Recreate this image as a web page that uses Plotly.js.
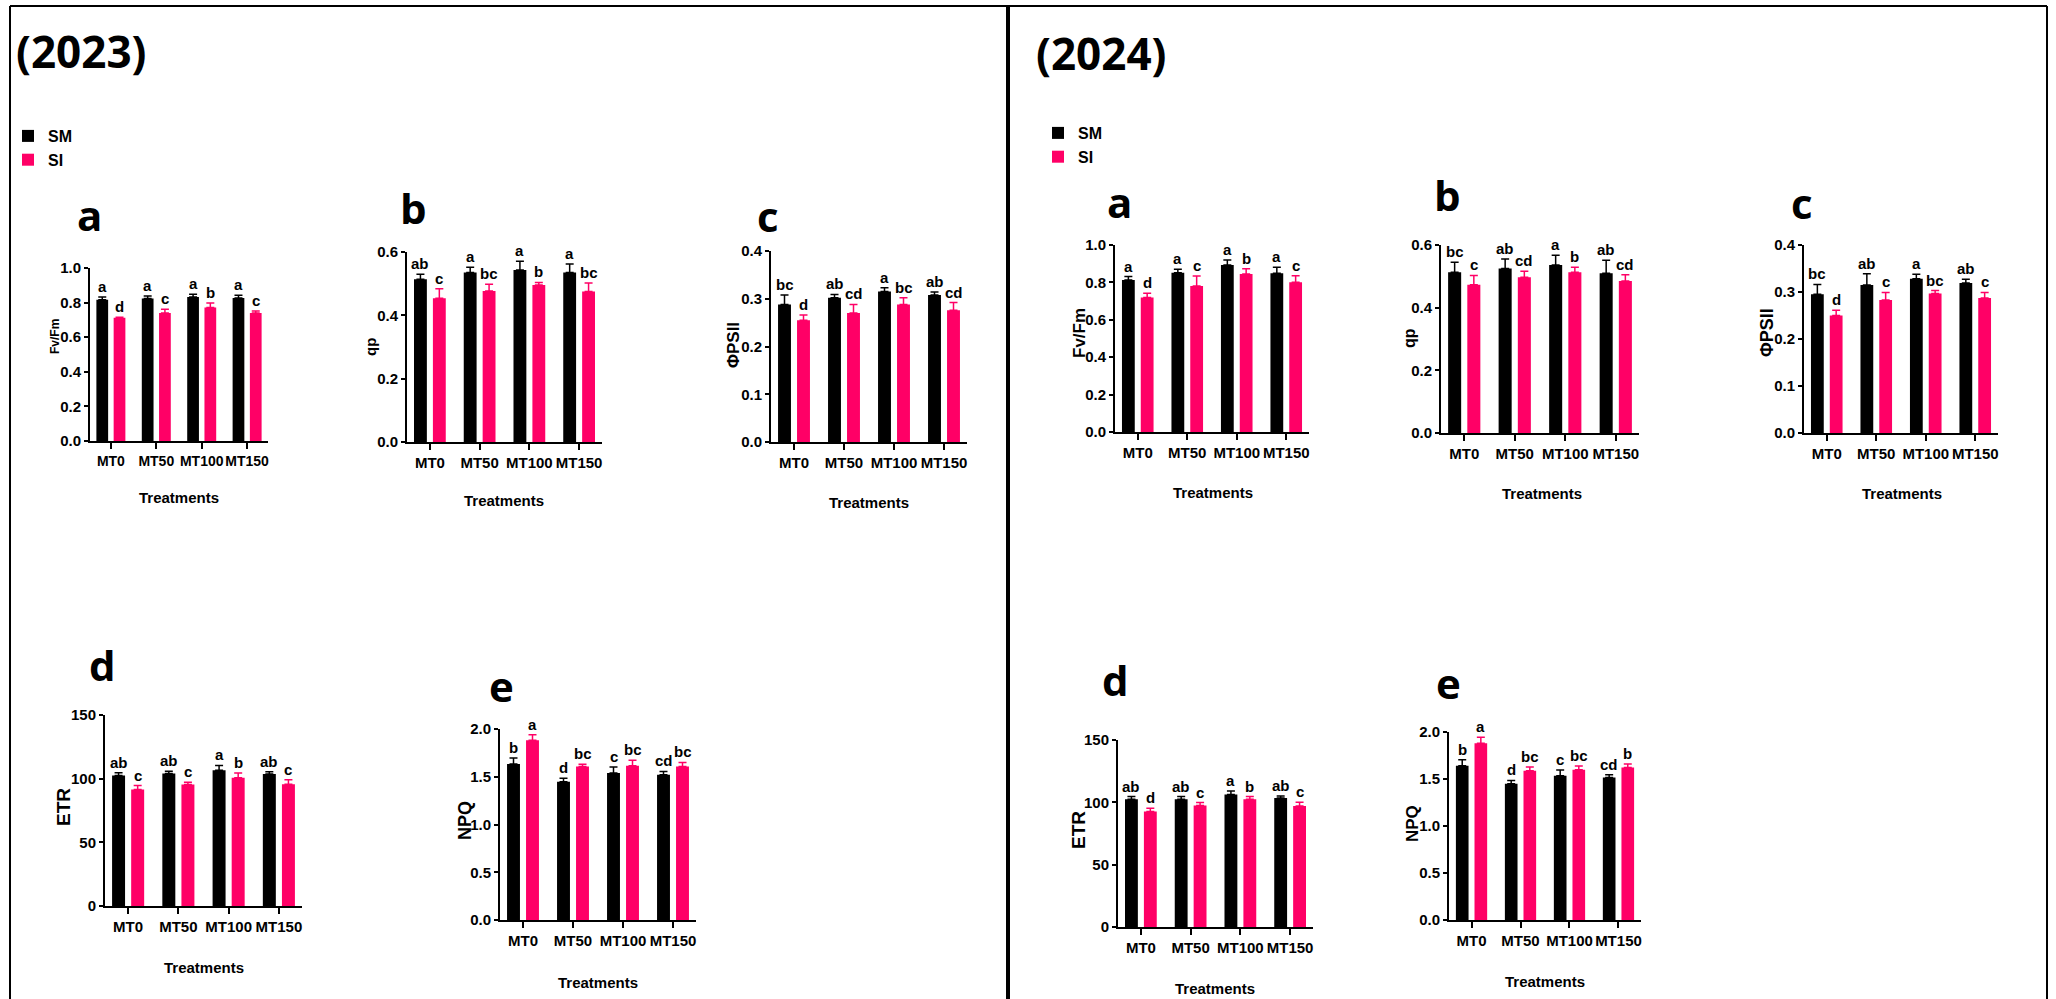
<!DOCTYPE html>
<html><head><meta charset="utf-8">
<script src="https://cdn.plot.ly/plotly-3.0.1.min.js"></script>
<style>html,body{margin:0;padding:0;background:#fff;} #chart{width:2056px;height:999px;}</style>
</head><body><div id="chart"></div>
<script>
// ---------------- DATA ----------------
const treatments = ['MT0', 'MT50', 'MT100', 'MT150'];
const seriesNames = ['SM', 'SI'];

// 2023
const fvfm23_SM = [0.817, 0.823, 0.833, 0.827];
const fvfm23_SM_err = [0.015, 0.015, 0.015, 0.015];
const fvfm23_SI = [0.712, 0.740, 0.771, 0.740];
const fvfm23_SI_err = [0.004, 0.021, 0.027, 0.012];
const fvfm23_SM_sig = ['a', 'a', 'a', 'a'];
const fvfm23_SI_sig = ['d', 'c', 'b', 'c'];

const qp23_SM = [0.514, 0.535, 0.543, 0.535];
const qp23_SM_err = [0.016, 0.017, 0.028, 0.027];
const qp23_SI = [0.454, 0.477, 0.496, 0.475];
const qp23_SI_err = [0.030, 0.021, 0.008, 0.027];
const qp23_SM_sig = ['ab', 'a', 'a', 'a'];
const qp23_SI_sig = ['c', 'bc', 'b', 'bc'];

const phi23_SM = [0.288, 0.302, 0.315, 0.308];
const phi23_SM_err = [0.020, 0.007, 0.008, 0.006];
const phi23_SI = [0.255, 0.270, 0.288, 0.276];
const phi23_SI_err = [0.011, 0.018, 0.014, 0.016];
const phi23_SM_sig = ['bc', 'ab', 'a', 'ab'];
const phi23_SI_sig = ['d', 'cd', 'bc', 'cd'];

const etr23_SM = [102.5, 104.1, 106.7, 103.6];
const etr23_SM_err = [2.1, 1.8, 3.7, 1.8];
const etr23_SI = [91.5, 95.5, 100.7, 95.7];
const etr23_SI_err = [3.1, 1.6, 3.7, 3.4];
const etr23_SM_sig = ['ab', 'ab', 'a', 'ab'];
const etr23_SI_sig = ['c', 'c', 'b', 'c'];

const npq23_SM = [1.633, 1.448, 1.538, 1.521];
const npq23_SM_err = [0.063, 0.035, 0.063, 0.035];
const npq23_SI = [1.881, 1.608, 1.615, 1.608];
const npq23_SI_err = [0.059, 0.024, 0.059, 0.042];
const npq23_SM_sig = ['b', 'd', 'c', 'cd'];
const npq23_SI_sig = ['a', 'bc', 'bc', 'bc'];

// 2024
const fvfm24_SM = [0.813, 0.852, 0.893, 0.849];
const fvfm24_SM_err = [0.018, 0.018, 0.027, 0.032];
const fvfm24_SI = [0.719, 0.781, 0.845, 0.801];
const fvfm24_SI_err = [0.023, 0.053, 0.028, 0.034];
const fvfm24_SM_sig = ['a', 'a', 'a', 'a'];
const fvfm24_SI_sig = ['d', 'c', 'b', 'c'];

const qp24_SM = [0.513, 0.525, 0.536, 0.510];
const qp24_SM_err = [0.032, 0.030, 0.031, 0.041];
const qp24_SI = [0.473, 0.497, 0.513, 0.485];
const qp24_SI_err = [0.030, 0.019, 0.016, 0.020];
const qp24_SM_sig = ['bc', 'ab', 'a', 'ab'];
const qp24_SI_sig = ['c', 'cd', 'b', 'cd'];

const phi24_SM = [0.295, 0.315, 0.328, 0.319];
const phi24_SM_err = [0.021, 0.024, 0.010, 0.008];
const phi24_SI = [0.250, 0.283, 0.297, 0.287];
const phi24_SI_err = [0.011, 0.016, 0.006, 0.012];
const phi24_SM_sig = ['bc', 'ab', 'a', 'ab'];
const phi24_SI_sig = ['d', 'c', 'bc', 'c'];

const etr24_SM = [102.5, 102.5, 106.2, 103.5];
const etr24_SM_err = [2.1, 2.1, 2.9, 1.6];
const etr24_SI = [92.6, 97.4, 102.5, 97.1];
const etr24_SI_err = [2.7, 2.4, 2.1, 2.9];
const etr24_SM_sig = ['ab', 'ab', 'a', 'ab'];
const etr24_SI_sig = ['d', 'c', 'b', 'c'];

const npq24_SM = [1.641, 1.449, 1.535, 1.517];
const npq24_SM_err = [0.064, 0.036, 0.060, 0.028];
const npq24_SI = [1.879, 1.588, 1.599, 1.623];
const npq24_SI_err = [0.064, 0.039, 0.039, 0.036];
const npq24_SM_sig = ['b', 'd', 'c', 'cd'];
const npq24_SI_sig = ['a', 'bc', 'bc', 'b'];

const yearTitles = ['(2023)', '(2024)'];
const panelLetters = ['a', 'b', 'c', 'd', 'e', 'a', 'b', 'c', 'd', 'e'];
const yTitles = ['Fv/Fm', 'qp', 'ΦPSII', 'ETR', 'NPQ', 'Fv/Fm', 'qp', 'ΦPSII', 'ETR', 'NPQ'];
const xTitle = 'Treatments';

// ---------------- STYLE / LAYOUT ----------------
const W = 2056, H = 999;
const BLACK = '#000000', PINK = '#ff0066';
const NARROW = '"Liberation Sans", Arial, sans-serif';
const SANSB = '"Liberation Sans", Arial, sans-serif';
const HEAD = '"Open Sans", "Noto Sans", sans-serif';

const panels = [
  {sm: fvfm23_SM, smE: fvfm23_SM_err, si: fvfm23_SI, siE: fvfm23_SI_err, smS: fvfm23_SM_sig, siS: fvfm23_SI_sig,
   px: [90, 268], py: [268, 441], ymax: 1.0, dtick: 0.2, fmt: '.1f', letter: [89, 214], yt: [55, 337, 12], xt: [179, 497], xf: 14},
  {sm: qp23_SM, smE: qp23_SM_err, si: qp23_SI, siE: qp23_SI_err, smS: qp23_SM_sig, siS: qp23_SI_sig,
   px: [407, 602], py: [252, 442], ymax: 0.6, dtick: 0.2, fmt: '.1f', letter: [413, 207], yt: [370, 347, 15], xt: [504, 500], xf: 15},
  {sm: phi23_SM, smE: phi23_SM_err, si: phi23_SI, siE: phi23_SI_err, smS: phi23_SM_sig, siS: phi23_SI_sig,
   px: [771, 967], py: [251, 442], ymax: 0.4, dtick: 0.1, fmt: '.1f', letter: [768, 215], yt: [733, 345, 17], xt: [869, 502], xf: 15},
  {sm: etr23_SM, smE: etr23_SM_err, si: etr23_SI, siE: etr23_SI_err, smS: etr23_SM_sig, siS: etr23_SI_sig,
   px: [105, 302], py: [715, 906], ymax: 150, dtick: 50, fmt: 'd', letter: [102, 664], yt: [63, 807, 19], xt: [204, 967], xf: 15},
  {sm: npq23_SM, smE: npq23_SM_err, si: npq23_SI, siE: npq23_SI_err, smS: npq23_SM_sig, siS: npq23_SI_sig,
   px: [500, 696], py: [729, 920], ymax: 2.0, dtick: 0.5, fmt: '.1f', letter: [501, 685], yt: [465, 821, 18], xt: [598, 982], xf: 15},
  {sm: fvfm24_SM, smE: fvfm24_SM_err, si: fvfm24_SI, siE: fvfm24_SI_err, smS: fvfm24_SM_sig, siS: fvfm24_SI_sig,
   px: [1115, 1309], py: [245, 432], ymax: 1.0, dtick: 0.2, fmt: '.1f', letter: [1119, 201], yt: [1080, 333, 17], xt: [1213, 492], xf: 15},
  {sm: qp24_SM, smE: qp24_SM_err, si: qp24_SI, siE: qp24_SI_err, smS: qp24_SM_sig, siS: qp24_SI_sig,
   px: [1441, 1639], py: [245, 433], ymax: 0.6, dtick: 0.2, fmt: '.1f', letter: [1447, 195], yt: [1410, 338, 16], xt: [1542, 493], xf: 15},
  {sm: phi24_SM, smE: phi24_SM_err, si: phi24_SI, siE: phi24_SI_err, smS: phi24_SM_sig, siS: phi24_SI_sig,
   px: [1804, 1998], py: [245, 433], ymax: 0.4, dtick: 0.1, fmt: '.1f', letter: [1802, 202], yt: [1767, 333, 18], xt: [1902, 493], xf: 15},
  {sm: etr24_SM, smE: etr24_SM_err, si: etr24_SI, siE: etr24_SI_err, smS: etr24_SM_sig, siS: etr24_SI_sig,
   px: [1118, 1313], py: [740, 927], ymax: 150, dtick: 50, fmt: 'd', letter: [1115, 679], yt: [1078, 830, 19], xt: [1215, 988], xf: 15},
  {sm: npq24_SM, smE: npq24_SM_err, si: npq24_SI, siE: npq24_SI_err, smS: npq24_SM_sig, siS: npq24_SI_sig,
   px: [1449, 1641], py: [732, 920], ymax: 2.0, dtick: 0.5, fmt: '.1f', letter: [1448, 682], yt: [1412, 824, 17], xt: [1545, 981], xf: 15}
];

const BARGAP = 0.24, GROUPGAP = 0.32;
const OFF = (1 - BARGAP) / 4;  // centre offset of each bar within its category group
const zeros = [0, 0, 0, 0];

const traces = [];
const annotations = [];
const layout = {
  width: W, height: H,
  margin: {l: 0, r: 0, t: 0, b: 0},
  paper_bgcolor: '#ffffff', plot_bgcolor: '#ffffff',
  barmode: 'group', bargap: BARGAP, bargroupgap: GROUPGAP,
  showlegend: true,
  legend: {x: 8 / W, y: 1 - 119 / H, xanchor: 'left', yanchor: 'top', bgcolor: 'rgba(0,0,0,0)',
           borderwidth: 0, tracegroupgap: 0, font: {family: NARROW, size: 16, color: BLACK, weight: 'bold'}},
  legend2: {x: 1038 / W, y: 1 - 116 / H, xanchor: 'left', yanchor: 'top', bgcolor: 'rgba(0,0,0,0)',
           borderwidth: 0, tracegroupgap: 0, font: {family: NARROW, size: 16, color: BLACK, weight: 'bold'}},
  shapes: [
    {type: 'line', xref: 'paper', yref: 'paper', x0: 10 / W, x1: 10 / W, y0: 0, y1: 1 - 6 / H, line: {color: BLACK, width: 2}},
    {type: 'line', xref: 'paper', yref: 'paper', x0: 10 / W, x1: 2047 / W, y0: 1 - 6 / H, y1: 1 - 6 / H, line: {color: BLACK, width: 2}},
    {type: 'line', xref: 'paper', yref: 'paper', x0: 2047 / W, x1: 2047 / W, y0: 0, y1: 1 - 6 / H, line: {color: BLACK, width: 2}},
    {type: 'line', xref: 'paper', yref: 'paper', x0: 1008 / W, x1: 1008 / W, y0: 0, y1: 1 - 6 / H, line: {color: BLACK, width: 4}}
  ],
  annotations: annotations
};

annotations.push({text: yearTitles[0], xref: 'paper', yref: 'paper', x: 14 / W, y: 1 - 51 / H, xanchor: 'left', yanchor: 'middle',
  showarrow: false, font: {family: HEAD, size: 44, color: BLACK, weight: 'bold'}});
annotations.push({text: yearTitles[1], xref: 'paper', yref: 'paper', x: 1034 / W, y: 1 - 53 / H, xanchor: 'left', yanchor: 'middle',
  showarrow: false, font: {family: HEAD, size: 44, color: BLACK, weight: 'bold'}});

panels.forEach((p, i) => {
  const k = i + 1;
  const xa = 'x' + (k === 1 ? '' : k), ya = 'y' + (k === 1 ? '' : k);
  const xKey = 'xaxis' + (k === 1 ? '' : k), yKey = 'yaxis' + (k === 1 ? '' : k);
  const legendId = i < 5 ? 'legend' : 'legend2';
  const showLeg = (i === 0 || i === 5);

  traces.push({type: 'bar', name: seriesNames[0], x: treatments, y: p.sm, xaxis: xa, yaxis: ya,
    marker: {color: BLACK, line: {width: 0}}, legend: legendId, showlegend: showLeg,
    error_y: {type: 'data', symmetric: false, array: p.smE, arrayminus: zeros, color: BLACK, thickness: 1.5, width: 4}});
  traces.push({type: 'bar', name: seriesNames[1], x: treatments, y: p.si, xaxis: xa, yaxis: ya,
    marker: {color: PINK, line: {width: 0}}, legend: legendId, showlegend: showLeg,
    error_y: {type: 'data', symmetric: false, array: p.siE, arrayminus: zeros, color: PINK, thickness: 1.5, width: 4}});

  layout[xKey] = {domain: [p.px[0] / W, p.px[1] / W], anchor: ya, type: 'category', range: [-0.46, 3.46],
    showline: true, linecolor: BLACK, linewidth: 2, ticks: 'outside', ticklen: 6, tickwidth: 2, tickcolor: BLACK,
    tickangle: 0, showgrid: false, zeroline: false, fixedrange: true,
    tickfont: {family: NARROW, size: p.xf, color: BLACK, weight: 'bold'}};
  layout[yKey] = {domain: [1 - p.py[1] / H, 1 - p.py[0] / H], anchor: xa, range: [0, p.ymax], dtick: p.dtick, tick0: 0,
    tickformat: p.fmt, showline: true, linecolor: BLACK, linewidth: 2, ticks: 'outside', ticklen: 4, tickwidth: 2, tickcolor: BLACK,
    showgrid: false, zeroline: false, fixedrange: true,
    tickfont: {family: NARROW, size: 15, color: BLACK, weight: 'bold'}};

  for (let j = 0; j < treatments.length; j++) {
    annotations.push({text: p.smS[j], xref: xa, yref: ya, x: j - OFF, y: p.sm[j] + p.smE[j], xanchor: 'center', yanchor: 'bottom',
      showarrow: false, font: {family: NARROW, size: 15, color: BLACK, weight: 'bold'}});
    annotations.push({text: p.siS[j], xref: xa, yref: ya, x: j + OFF, y: p.si[j] + p.siE[j], xanchor: 'center', yanchor: 'bottom',
      showarrow: false, font: {family: NARROW, size: 15, color: BLACK, weight: 'bold'}});
  }
  annotations.push({text: panelLetters[i], xref: 'paper', yref: 'paper', x: p.letter[0] / W, y: 1 - p.letter[1] / H,
    xanchor: 'center', yanchor: 'middle', showarrow: false, font: {family: HEAD, size: 42, color: BLACK, weight: 'bold'}});
  annotations.push({text: yTitles[i], xref: 'paper', yref: 'paper', x: p.yt[0] / W, y: 1 - p.yt[1] / H, textangle: -90,
    xanchor: 'center', yanchor: 'middle', showarrow: false, font: {family: SANSB, size: p.yt[2], color: BLACK, weight: 'bold'}});
  annotations.push({text: xTitle, xref: 'paper', yref: 'paper', x: p.xt[0] / W, y: 1 - p.xt[1] / H,
    xanchor: 'center', yanchor: 'middle', showarrow: false, font: {family: NARROW, size: 15, color: BLACK, weight: 'bold'}});
});

Plotly.newPlot('chart', traces, layout, {displayModeBar: false, staticPlot: true});
</script>
</body></html>
